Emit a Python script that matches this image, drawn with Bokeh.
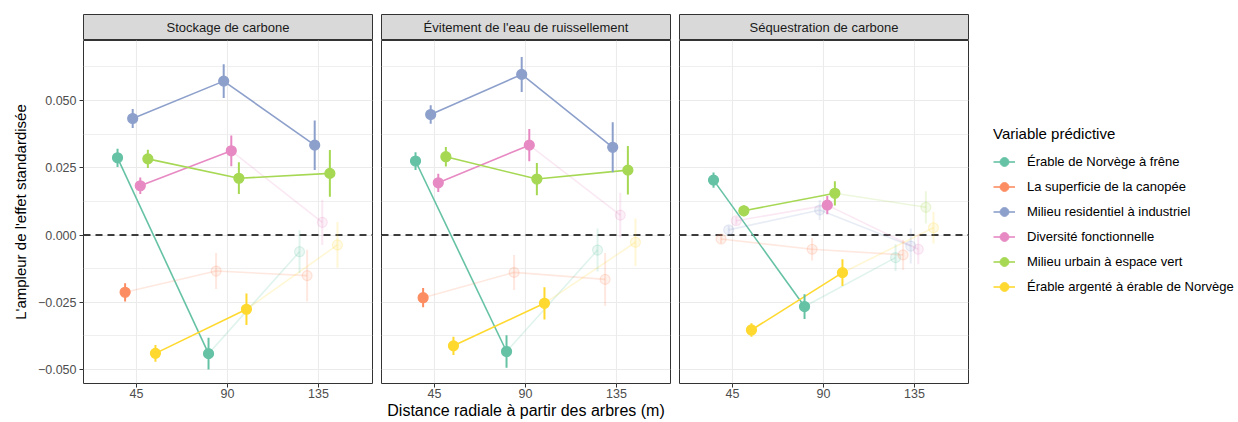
import numpy as np
from bokeh.plotting import figure
from bokeh.layouts import row, column
from bokeh.models import (Range1d, FixedTicker, ColumnDataSource, Span,
                          Legend, LegendItem, CustomJSTickFormatter)
from bokeh.transform import dodge
from bokeh.core.properties import value
from bokeh.embed import file_html
from bokeh.resources import INLINE

FONT = "Liberation Sans"

# ---------------- data ----------------
distances = [45, 90, 135]
variables = [
    "Érable de Norvège à frêne",
    "La superficie de la canopée",
    "Milieu residentiel à industriel",
    "Diversité fonctionnelle",
    "Milieu urbain à espace vert",
    "Érable argenté à érable de Norvège",
]
panels = [
    "Stockage de carbone",
    "Évitement de l'eau de ruissellement",
    "Séquestration de carbone",
]

stockage_est = [
    [0.0287, -0.0441, -0.0062],
    [-0.0213, -0.0134, -0.0151],
    [0.0433, 0.0572, 0.0334],
    [0.0183, 0.0313, 0.0047],
    [0.0283, 0.0211, 0.0229],
    [-0.0440, -0.0276, -0.0037],
]
stockage_err = [
    [0.0034, 0.0059, 0.0080],
    [0.0034, 0.0067, 0.0096],
    [0.0035, 0.0063, 0.0092],
    [0.0031, 0.0057, 0.0084],
    [0.0034, 0.0059, 0.0087],
    [0.0031, 0.0059, 0.0085],
]
stockage_sig = [[1, 1, 0], [1, 0, 0], [1, 1, 1], [1, 1, 0], [1, 1, 1], [1, 1, 0]]

ruissellement_est = [
    [0.0275, -0.0433, -0.0056],
    [-0.0233, -0.0139, -0.0165],
    [0.0448, 0.0597, 0.0326],
    [0.0194, 0.0334, 0.0074],
    [0.0291, 0.0208, 0.0241],
    [-0.0412, -0.0254, -0.0027],
]
ruissellement_err = [
    [0.0033, 0.0060, 0.0080],
    [0.0036, 0.0065, 0.0098],
    [0.0034, 0.0065, 0.0093],
    [0.0034, 0.0060, 0.0083],
    [0.0036, 0.0060, 0.0090],
    [0.0034, 0.0060, 0.0088],
]
ruissellement_sig = [[1, 1, 0], [1, 0, 0], [1, 1, 1], [1, 1, 0], [1, 1, 1], [1, 1, 0]]

sequestration_est = [
    [0.0204, -0.0266, -0.0084],
    [-0.0015, -0.0053, -0.0074],
    [0.0019, 0.0093, -0.0041],
    [0.0053, 0.0111, -0.0053],
    [0.0090, 0.0155, 0.0103],
    [-0.0353, -0.0140, 0.0027],
]
sequestration_err = [
    [0.0028, 0.0046, 0.0050],
    [0.0017, 0.0042, 0.0056],
    [0.0015, 0.0037, 0.0065],
    [0.0015, 0.0034, 0.0056],
    [0.0020, 0.0045, 0.0060],
    [0.0025, 0.0050, 0.0059],
]
sequestration_sig = [[1, 1, 0], [0, 0, 0], [0, 0, 0], [0, 1, 0], [1, 1, 0], [1, 1, 0]]

x_ticks = [45, 90, 135]
y_ticks = [-0.05, -0.025, 0.0, 0.025, 0.05]
y_minor = [-0.0375, -0.0125, 0.0125, 0.0375, 0.0625]

x_title = "Distance radiale à partir des arbres (m)"
y_title = "L'ampleur de l'effet standardisée"
legend_title = "Variable prédictive"

# ---------------- style ----------------
colors = ["#66C2A5", "#FC8D62", "#8DA0CB", "#E78AC3", "#A6D854", "#FFD92F"]
X_RANGE = (18.8, 161.7)
Y_RANGE = (-0.0552, 0.0723)
FW, FH = 289, 343
DODGE_STEP = 3.75
FADE = 0.2
GRID = "#EBEBEB"


def make_strip(text, left):
    s = figure(frame_width=FW, frame_height=26, x_range=Range1d(0, 1), y_range=Range1d(0, 1),
               output_backend="svg", toolbar_location=None, title=None,
               min_border_left=left, min_border_right=4, min_border_top=14, min_border_bottom=0)
    s.axis.visible = False
    s.grid.visible = False
    s.background_fill_color = "#D9D9D9"
    s.outline_line_color = "#333333"
    s.outline_line_width = 1
    s.text(x=[0.5], y=[0.5], text=[text], text_align="center", text_baseline="middle",
           text_font=value(FONT), text_font_size="13px", text_color="#1A1A1A")
    return s


def make_panel(est, err, sig, left, show_y, xlabel=None):
    p = figure(frame_width=FW, frame_height=FH, x_range=Range1d(*X_RANGE), y_range=Range1d(*Y_RANGE),
               output_backend="svg", toolbar_location=None, title=None,
               min_border_left=left, min_border_right=4, min_border_top=0, min_border_bottom=38)
    p.background_fill_color = "white"
    p.outline_line_color = "#333333"
    p.outline_line_width = 1

    p.xaxis.ticker = FixedTicker(ticks=x_ticks)
    p.xgrid.ticker = FixedTicker(ticks=x_ticks)
    p.xgrid.grid_line_color = GRID
    p.xgrid.grid_line_width = 1.1
    p.ygrid.ticker = FixedTicker(ticks=y_ticks, minor_ticks=y_minor)
    p.ygrid.grid_line_color = GRID
    p.ygrid.grid_line_width = 1.1
    p.ygrid.minor_grid_line_color = GRID
    p.ygrid.minor_grid_line_width = 0.8

    for ax in (p.xaxis[0], p.yaxis[0]):
        ax.axis_line_color = None
        ax.major_tick_line_color = "#333333"
        ax.major_tick_out = 4
        ax.major_tick_in = 0
        ax.minor_tick_out = 0
        ax.minor_tick_in = 0
        ax.major_label_text_font = FONT
        ax.major_label_text_font_size = "12.5px"
        ax.major_label_text_color = "#4D4D4D"
    p.xaxis.major_label_standoff = 1
    p.yaxis.major_label_standoff = 3
    p.yaxis.ticker = FixedTicker(ticks=y_ticks)
    p.yaxis.formatter = CustomJSTickFormatter(code="return tick.toFixed(3).replace('-', '\u2212')")
    if show_y:
        p.yaxis.axis_label = y_title
        p.yaxis.axis_label_text_font = FONT
        p.yaxis.axis_label_text_font_size = "15px"
        p.yaxis.axis_label_text_font_style = "normal"
        p.yaxis.axis_label_text_color = "black"
        p.yaxis.axis_label_standoff = 6
    else:
        p.yaxis.visible = False
    if xlabel:
        p.xaxis.axis_label = xlabel
        p.xaxis.axis_label_text_font = FONT
        p.xaxis.axis_label_text_font_size = "16px"
        p.xaxis.axis_label_text_font_style = "normal"
        p.xaxis.axis_label_text_color = "black"
        p.xaxis.axis_label_standoff = 1

    p.add_layout(Span(location=0, dimension="width", line_color="black", line_dash="7 5",
                      line_width=1.3, level="underlay"))

    layers = []
    for i, (c, e, r, s) in enumerate(zip(colors, est, err, sig)):
        off = (i - (len(variables) - 1) / 2) * DODGE_STEP
        a = [1.0 if v else FADE for v in s]
        fa = [1.0 if v else FADE * 0.6 for v in s]
        pts = ColumnDataSource(dict(x=distances, y=e,
                                    lo=[m - d for m, d in zip(e, r)],
                                    hi=[m + d for m, d in zip(e, r)], a=a, fa=fa))
        seg = ColumnDataSource(dict(x0=distances[:-1], x1=distances[1:], y0=e[:-1], y1=e[1:],
                                    a=[min(a[j], a[j + 1]) for j in range(len(a) - 1)]))
        layers.append((c, off, pts, seg))

    for c, off, pts, seg in layers:
        p.segment(x0=dodge("x0", off, range=p.x_range), y0="y0",
                  x1=dodge("x1", off, range=p.x_range), y1="y1",
                  source=seg, line_color=c, line_alpha="a", line_width=1.6)
    for c, off, pts, seg in layers:
        p.segment(x0=dodge("x", off, range=p.x_range), y0="lo",
                  x1=dodge("x", off, range=p.x_range), y1="hi",
                  source=pts, line_color=c, line_alpha="a", line_width=2)
    for c, off, pts, seg in layers:
        p.scatter(x=dodge("x", off, range=p.x_range), y="y", source=pts, size=10,
                  fill_color=c, line_color=c, fill_alpha="fa", line_alpha="a", line_width=1.2)
    return p


cols = []
data = [(stockage_est, stockage_err, stockage_sig),
        (ruissellement_est, ruissellement_err, ruissellement_sig),
        (sequestration_est, sequestration_err, sequestration_sig)]
for k, (name, (e, r, s)) in enumerate(zip(panels, data)):
    left = 83 if k == 0 else 5
    strip = make_strip(name, left)
    panel = make_panel(e, r, s, left, show_y=(k == 0), xlabel=x_title if k == 1 else None)
    cols.append(column(strip, panel))

# legend figure (renderers hold a single NaN so they draw nothing in the frame)
lf = figure(frame_width=244, frame_height=296, x_range=Range1d(0, 1), y_range=Range1d(0, 1),
            output_backend="svg", toolbar_location=None, title=None,
            min_border_left=21, min_border_top=125, min_border_right=0, min_border_bottom=0)
lf.axis.visible = False
lf.grid.visible = False
lf.outline_line_color = None
items = []
for v, c in zip(variables, colors):
    empty = ColumnDataSource(dict(x=np.array([np.nan]), y=np.array([np.nan])))
    r1 = lf.line(x="x", y="y", source=empty, line_color=c, line_width=1.6)
    r2 = lf.scatter(x="x", y="y", source=empty, size=10, fill_color=c, line_color=c)
    items.append(LegendItem(label=v, renderers=[r1, r2]))
leg = Legend(items=items, location="top_left", title=legend_title, margin=0, padding=0,
             border_line_color=None, background_fill_alpha=0,
             glyph_width=22, glyph_height=25, label_height=25, spacing=0, label_standoff=12,
             label_text_font=FONT, label_text_font_size="13px", label_text_color="black",
             title_text_font=FONT, title_text_font_size="15px", title_text_font_style="normal",
             title_text_color="black", title_standoff=7)
lf.add_layout(leg)

layout = row(*cols, lf)
open("out.html", "w").write(file_html(layout, INLINE))
